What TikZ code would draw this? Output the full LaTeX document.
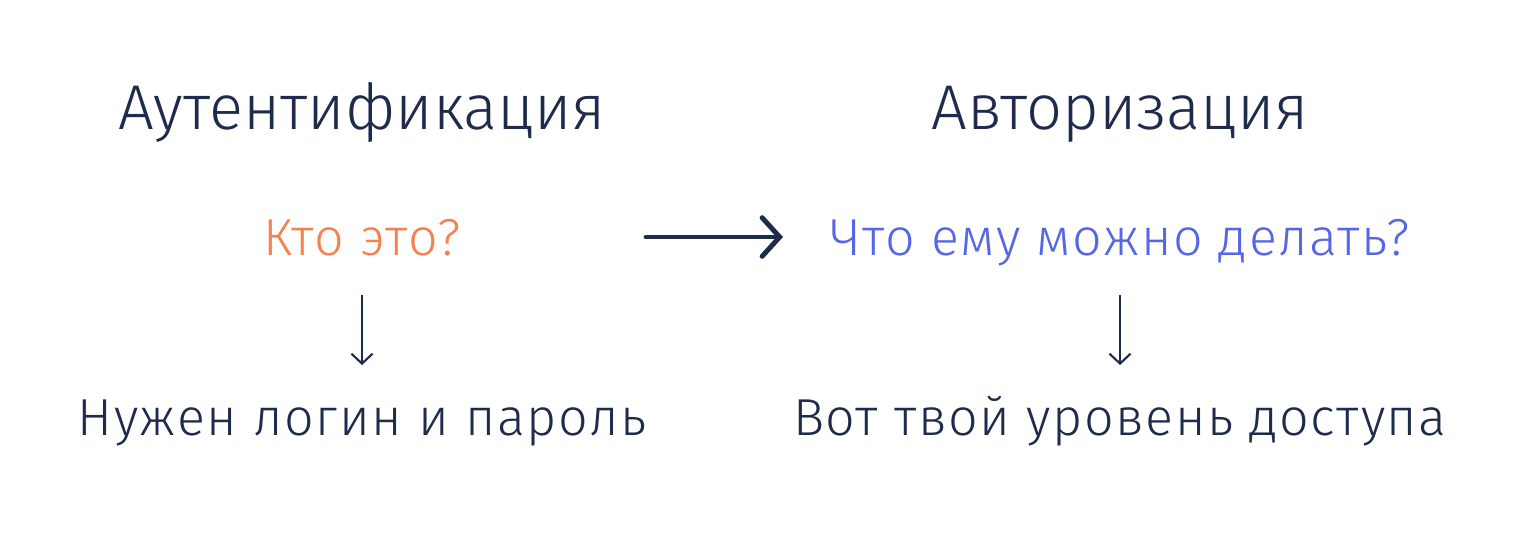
\documentclass[tikz,border=0pt]{standalone}
\usepackage{fontspec}
\setmainfont{Fira Sans Light}
\usetikzlibrary{arrows.meta,positioning}
\definecolor{navy}{HTML}{1F2B4D}
\definecolor{peach}{HTML}{F5814F}
\definecolor{violet}{HTML}{5566E6}
\tikzset{
    title/.style={anchor=base, text=navy, font=\fontsize{18}{21}\selectfont},
    question/.style={anchor=base, font=\fontsize{14.8}{17}\selectfont\addfontfeatures{LetterSpace=3}},
    answer/.style={anchor=base, text=navy, font=\fontsize{14.8}{17}\selectfont\addfontfeatures{LetterSpace=3}},
    bigarrow/.style={navy, line width=1.4pt, line cap=round, -{Straight Barb[length=5pt,width=11pt,line cap=round]}},
    smallarrow/.style={navy, line width=0.6pt, -{Straight Barb[length=2.8pt,width=6pt]}}
}
\begin{document}
\begin{tikzpicture}
            \useasboundingbox (0,0) rectangle (15.36,5.36);
            % titles
            \node[title] (auth) at (3.62,4.07) {Аутентификация};
            \node[title] (authz) at (11.2,4.07) {Авторизация};
            % questions
            \node[question, text=peach] (who) at (3.62,2.81) {Кто это?};
            \node[question, text=violet] (what) at (11.2,2.81) {Что ему можно делать?};
            % answers
            \node[answer] (login) at (3.62,1.01) {Нужен логин и пароль};
            \node[answer] (level) at (11.2,1.01) {Вот твой уровень доступа};

            \coordinate (hstart) at (6.46,2.99);
            \coordinate (hend) at (7.83,2.99);
            \draw[bigarrow] (hstart) -- (hend);

            \coordinate (lstart) at (3.62,2.41);
            \coordinate (lend) at (3.62,1.71);
            \draw[smallarrow] (lstart) -- (lend);
            \coordinate (rstart) at (11.2,2.41);
            \coordinate (rend) at (11.2,1.71);
            \draw[smallarrow] (rstart) -- (rend);
        \end{tikzpicture}
\end{document}
